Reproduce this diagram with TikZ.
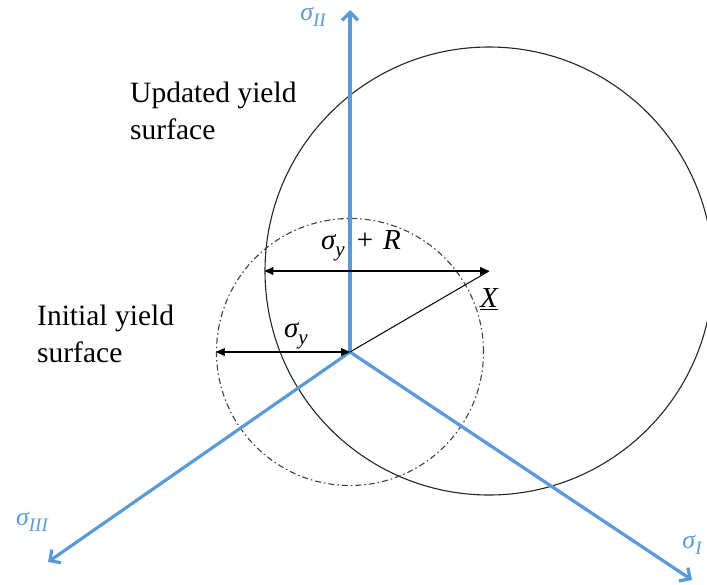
\documentclass[tikz,border=0pt]{standalone}
\usepackage{fontspec}
\setmainfont{Liberation Serif}
\usetikzlibrary{arrows.meta}
\definecolor{axisblue}{RGB}{91,155,213}
\newcommand{\mysub}[2][21]{\raisebox{-0.25em}{\fontsize{#1}{#1}\selectfont\itshape #2}}
\begin{document}
\begin{tikzpicture}[x=1pt,y=-1pt,
  axis/.style={draw=axisblue, line width=3.2pt, line cap=round,
    -{Straight Barb[length=8pt,width=16pt,line width=3.2pt]}},
  axlabel/.style={text=axisblue, inner sep=0pt, font=\fontsize{26}{30}\selectfont\itshape},
  dim/.style={draw=black, line width=1.2pt,
    {Triangle[length=9pt,width=8pt]}-{Triangle[length=9pt,width=8pt]}},
  surf/.style={circle, draw=black!85, line width=1.1pt, inner sep=0pt},
  initsurf/.style={circle, draw=black!75, line width=1.1pt, inner sep=0pt,
    dash pattern=on 6pt off 3pt on 1.5pt off 3pt},
  mathlbl/.style={inner sep=0pt, font=\fontsize{29}{32}\selectfont\itshape},
  txt/.style={align=left, inner sep=0pt, anchor=north west,
    font=\fontsize{29.5}{36.5}\selectfont}
]
\clip (0,0) rectangle (707,584);
\coordinate (O) at (350,352);
\coordinate (X) at (489,271);
\coordinate (tI) at (692,580);
\coordinate (tII) at (350,10);
\coordinate (tIII) at (48,562);

% yield surfaces
\node[surf, minimum size=448pt] (upd) at (X) {};
\node[initsurf, minimum size=267pt] (ini) at (O) {};

% axes
\draw[axis] (O) -- (tII);
\draw[axis] (O) -- (tI);
\draw[axis] (O) -- (tIII);

% back-stress line and dimension arrows
\draw[line width=1pt] (O) -- (X);
\draw[dim] (upd.west) -- (X);
\draw[dim] (ini.west) -- (O);

% labels
\node[axlabel] (lII) at (313,17) {σ\mysub[19]{II}};
\node[axlabel] (lI) at (692,545) {σ\mysub[19]{I}};
\node[axlabel] (lIII) at (32,522) {σ\mysub[19]{III}};
\node[mathlbl] (lR) at (361,246) {σ\mysub{y}\hspace{12pt}{\upshape +}\hspace{10pt}R};
\node[mathlbl] (ly) at (296,336) {σ\mysub{y}};
\node[mathlbl] (lX) at (489,299) {\underline{X}};
\node[txt] (tu) at (130,82) {Updated yield\\surface};
\node[txt] (ti) at (37,305) {Initial yield\\surface};
\end{tikzpicture}
\end{document}
